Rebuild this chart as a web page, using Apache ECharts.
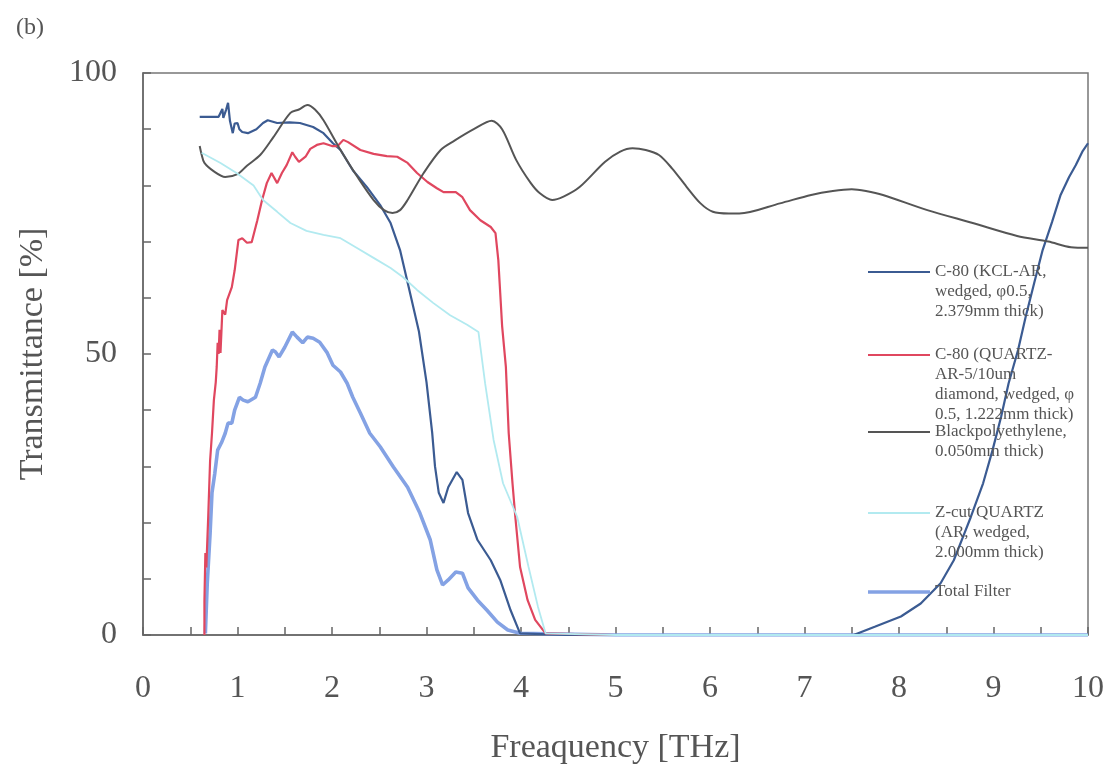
<!DOCTYPE html>
<html>
<head>
<meta charset="utf-8">
<script src="https://cdn.jsdelivr.net/npm/echarts@6/dist/echarts.min.js"></script>
<style>
  html, body { margin: 0; padding: 0; background: #fff; }
  #chart { width: 1110px; height: 774px; }
</style>
</head>
<body>
<div id="chart"></div>
<script>
// Transmittance spectra of filter components, frequency in THz, transmittance in %
const kclFreq = [0.60,0.80,0.84,0.85,0.88,0.90,0.92,0.95,0.97,1.00,1.02,1.05,1.11,1.20,1.27,1.32,1.42,1.55,1.66,1.80,1.91,2.01,2.09,2.22,2.37,2.51,2.62,2.72,2.81,2.92,3.00,3.06,3.09,3.13,3.18,3.23,3.32,3.38,3.44,3.54,3.68,3.78,3.89,3.99,4.5,5,6,7,7.52,7.75,8.02,8.23,8.44,8.58,8.69,8.76,8.89,8.99,9.08,9.16,9.26,9.34,9.43,9.52,9.62,9.71,9.80,9.87,9.94,10];
const kclT    = [92.2,92.2,93.6,92.0,93.5,94.7,91.5,89.3,91.0,91.1,90.0,89.5,89.3,90.0,91.1,91.6,91.1,91.2,91.1,90.4,89.3,87.5,86.3,82.7,79.7,76.5,73.3,68.5,62.0,54.0,45.0,36.0,30.0,25.3,23.5,26.3,29.0,27.6,21.7,16.9,13.3,9.8,4.4,0.3,0,0,0,0,0,1.5,3.3,5.6,9.2,13.3,18.0,21.0,27.0,32.9,38.8,44.8,50.7,56.6,62.6,68.5,73.5,78.3,81.5,83.6,86.0,87.5];

const quartzArFreq = [0.65,0.65,0.66,0.67,0.69,0.71,0.73,0.75,0.77,0.78,0.79,0.80,0.81,0.82,0.84,0.87,0.89,0.94,0.97,1.01,1.05,1.10,1.15,1.21,1.26,1.31,1.36,1.42,1.47,1.52,1.58,1.61,1.65,1.72,1.77,1.84,1.91,2.00,2.06,2.12,2.17,2.30,2.44,2.58,2.69,2.80,2.90,3.01,3.11,3.18,3.31,3.38,3.46,3.57,3.68,3.73,3.76,3.78,3.80,3.84,3.87,3.91,3.94,3.99,4.07,4.15,4.26,5,10];
const quartzArT    = [0,6.0,14.6,12.0,21.0,31.0,35.9,41.8,45.0,47.7,52.0,50.0,54.3,50.2,57.8,57.0,59.6,61.9,64.9,70.3,70.6,69.8,69.9,73.8,77.4,80.4,82.2,80.4,82.2,83.6,85.9,85.1,84.2,85.1,86.5,87.2,87.5,87.0,87.0,88.1,87.7,86.3,85.6,85.2,85.1,84.0,82.2,80.6,79.5,78.8,78.8,77.9,75.6,73.8,72.6,71.5,66.7,60.9,55.0,47.7,35.9,27.0,21.0,12.1,6.2,2.7,0.3,0,0];

const blackPeFreq = [0.60,0.62,0.65,0.75,0.87,1.00,1.10,1.24,1.38,1.56,1.65,1.74,1.82,1.91,2.09,2.27,2.44,2.55,2.64,2.72,2.80,2.97,3.15,3.30,3.50,3.69,3.80,3.95,4.10,4.20,4.33,4.45,4.62,4.89,5.05,5.18,5.32,5.46,5.60,5.75,5.90,6.03,6.20,6.31,6.74,7.07,7.30,7.50,7.65,7.83,8.30,8.78,9.25,9.58,9.82,10];
const blackPeT    = [87.0,85.5,84.0,82.5,81.5,82.0,83.5,85.4,88.6,92.9,93.5,94.3,93.5,91.6,86.3,81.5,77.4,75.6,75.1,75.6,77.4,82.2,86.3,88.0,90.0,91.5,90.0,84.5,80.5,78.6,77.4,78.0,79.7,84.2,86.0,86.6,86.3,85.4,83.0,79.8,76.8,75.3,75.0,75.0,76.8,78.3,79.0,79.3,79.0,78.3,75.6,73.3,71.0,70.0,69.0,68.9];

const zcutFreq = [0.62,0.82,0.99,1.17,1.27,1.42,1.56,1.73,1.91,2.09,2.26,2.44,2.62,2.75,2.90,3.07,3.25,3.43,3.55,3.62,3.71,3.81,3.96,4.08,4.18,4.26,5,10];
const zcutT    = [85.8,84.0,82.2,80.0,77.4,75.3,73.3,71.9,71.2,70.6,68.9,67.1,65.3,63.7,61.4,59.1,56.9,55.2,53.9,44.8,34.7,27.0,21.0,12.1,5.0,0.3,0,0];

const totalFreq = [0.66,0.68,0.71,0.73,0.76,0.79,0.83,0.87,0.90,0.94,0.97,1.02,1.06,1.11,1.19,1.24,1.29,1.37,1.40,1.44,1.50,1.58,1.63,1.69,1.74,1.80,1.87,1.95,2.01,2.09,2.16,2.22,2.30,2.40,2.51,2.65,2.80,2.93,3.04,3.11,3.17,3.23,3.31,3.38,3.44,3.54,3.64,3.75,3.86,3.99,5,10];
const totalT    = [0.3,9.2,18.1,25.3,28.8,32.9,34.2,35.9,37.7,37.7,40.0,42.3,41.8,41.5,42.3,44.8,47.7,50.7,50.4,49.5,51.2,53.9,53.0,52.0,53.0,52.8,52.1,50.2,48.0,46.8,44.8,42.3,39.5,35.9,33.5,29.9,26.3,21.7,16.9,11.6,8.9,9.8,11.2,11.0,8.4,6.2,4.4,2.3,0.9,0.3,0,0];

const seriesNames = [
  'C-80 (KCL-AR,\nwedged, φ0.5,\n2.379mm thick)',
  'C-80 (QUARTZ-\nAR-5/10um\ndiamond, wedged, φ\n0.5, 1.222mm thick)',
  'Blackpolyethylene,\n0.050mm thick)',
  'Z-cut QUARTZ\n(AR, wedged,\n2.000mm thick)',
  'Total Filter'
];
const xTickLabels = ['0','1','2','3','4','5','6','7','8','9','10'];
const yTickLabels = ['0','50','100'];

const serif = '"Liberation Serif", "DejaVu Serif", serif';
const pairs = (xs, ys) => xs.map((x, i) => [x, ys[i]]);

const lineDefs = [
  { data: pairs(kclFreq, kclT),           color: '#3b5b92', width: 2.2, smooth: false },
  { data: pairs(quartzArFreq, quartzArT), color: '#e0475f', width: 2.2, smooth: false },
  { data: pairs(blackPeFreq, blackPeT),   color: '#555555', width: 2.0, smooth: 0.3 },
  { data: pairs(zcutFreq, zcutT),         color: '#b2eaf0', width: 1.8, smooth: false },
  { data: pairs(totalFreq, totalT),       color: '#84a2e4', width: 3.6, smooth: false }
];

const series = lineDefs.map((d, i) => ({
  name: seriesNames[i],
  type: 'line',
  data: d.data,
  smooth: d.smooth,
  symbol: 'none',
  lineStyle: { color: d.color, width: d.width },
  itemStyle: { color: d.color },
  animation: false,
  z: i === 4 ? 1 : 2
}));

// one legend block per series so the key line sits beside the first text line
const legendFirstLine = [272, 355, 432, 513, 592];
const lineH = 20;
const legends = seriesNames.map((name, i) => {
  const n = name.split('\n').length;
  const w = lineDefs[i].width;
  return {
    data: [{ name: name, icon: 'rect' }],
    orient: 'vertical',
    left: 868,
    top: legendFirstLine[i] - (2 * n - 1) * lineH / 2,
    padding: 0,
    itemWidth: 62,
    itemHeight: Math.max(2, w),
    selectedMode: false,
    formatter: (nm) => '\n'.repeat(n - 1) + nm,
    textStyle: { fontFamily: serif, fontSize: 17, color: '#555', lineHeight: lineH }
  };
});

const chart = echarts.init(document.getElementById('chart'), null, { renderer: 'canvas' });
chart.setOption({
  backgroundColor: '#fff',
  animation: false,
  title: {
    text: '(b)', left: 11, top: 11,
    textStyle: { fontFamily: serif, fontSize: 24, fontWeight: 'normal', color: '#555' }
  },
  grid: {
    left: 143, right: 22, top: 73, bottom: 139,
    show: true, borderColor: '#777', borderWidth: 1.5, backgroundColor: 'transparent'
  },
  legend: legends,
  xAxis: {
    type: 'value', min: 0, max: 10, interval: 0.5,
    name: 'Freaquency [THz]', nameLocation: 'middle', nameGap: 96,
    nameTextStyle: { fontFamily: serif, fontSize: 34, color: '#555' },
    axisLine: { show: true, lineStyle: { color: '#666', width: 1.5 } },
    axisTick: { show: true, inside: true, length: 8, lineStyle: { color: '#666', width: 1.5 } },
    axisLabel: {
      margin: 38, fontFamily: serif, fontSize: 32, color: '#555',
      formatter: v => (Number.isInteger(v) ? xTickLabels[v] : '')
    },
    splitLine: { show: false }
  },
  yAxis: {
    type: 'value', min: 0, max: 100, interval: 10,
    name: 'Transmittance [%]', nameLocation: 'middle', nameGap: 93,
    nameTextStyle: { fontFamily: serif, fontSize: 34, color: '#555' },
    axisLine: { show: true, lineStyle: { color: '#666', width: 1.5 } },
    axisTick: { show: true, inside: true, length: 8, lineStyle: { color: '#666', width: 1.5 } },
    axisLabel: {
      margin: 26, fontFamily: serif, fontSize: 32, color: '#555',
      formatter: v => (v % 50 === 0 ? yTickLabels[v / 50] : '')
    },
    splitLine: { show: false }
  },
  series: series
});
</script>
</body>
</html>
